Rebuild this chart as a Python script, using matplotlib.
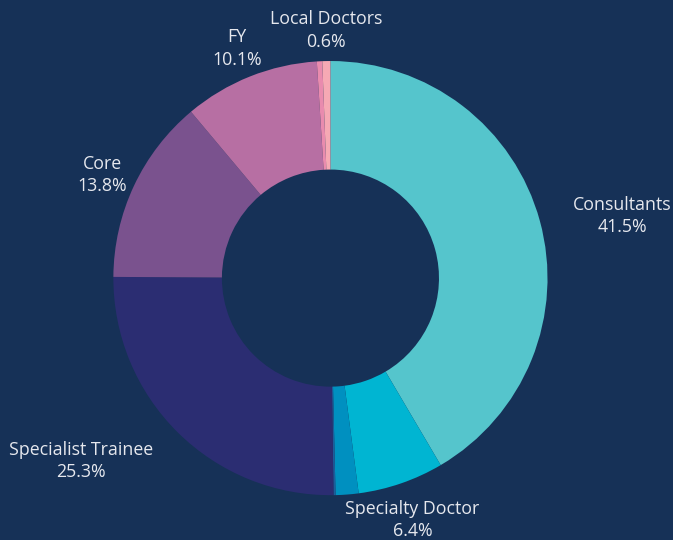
import numpy as np
import matplotlib.pyplot as plt
from matplotlib.transforms import offset_copy

# slices, clockwise from 12 o'clock
categories = ['Consultants', 'Specialty Doctor', '', '', 'Specialist Trainee',
              'Core', 'FY', '', 'Local Doctors']
shares = [41.5, 6.4, 1.7, 0.15, 25.3, 13.8, 10.1, 0.4, 0.6]
colours = ['#55c5cc', '#00b5d2', '#0090c0', '#1d5d9c', '#2b2d72',
           '#7a528e', '#b76fa3', '#e98bae', '#f6a9b4']

BG = '#163157'
TXT = '#e6e8ee'

plt.rcParams['font.family'] = ['Open Sans', 'DejaVu Sans']

fig = plt.figure(figsize=(6.73, 5.4), dpi=100, facecolor=BG)
ax = fig.add_axes([0.168, 0.083, 0.646, 0.804])
ax.set_facecolor(BG)

wedges, _ = ax.pie(shares, colors=colours, startangle=90, counterclock=False,
                   radius=1.0, wedgeprops=dict(width=0.5, linewidth=0))

ax.set_xlim(-1, 1)
ax.set_ylim(-1, 1)
ax.set_aspect('equal')
ax.axis('off')

# nudge labels down a touch, the font sits a bit high otherwise
lbl_trans = offset_copy(ax.transData, fig=fig, x=0, y=-3, units='points')

total = sum(shares)
renderer = fig.canvas.get_renderer()
for w, name, val in zip(wedges, categories, shares):
    if not name:
        continue
    mid = np.deg2rad((w.theta1 + w.theta2) / 2)
    x, y = 1.16 * np.cos(mid), 1.16 * np.sin(mid)
    t = ax.text(x, y, f'{name}\n{val / total * 100:.1f}%', ha='center', va='center',
                multialignment='center', color=TXT, fontsize=12.8, linespacing=1.3,
                transform=lbl_trans)
    # if the label box cuts into the ring, push it out to the side
    bb = t.get_window_extent(renderer).transformed(ax.transData.inverted())
    corners = [(bb.x0, bb.y0), (bb.x0, bb.y1), (bb.x1, bb.y0), (bb.x1, bb.y1)]
    if any(cx ** 2 + cy ** 2 < 1.0 for cx, cy in corners):
        t.set_ha('left' if x > 0 else 'right')

fig.savefig('out.png', dpi=100, facecolor=BG)
